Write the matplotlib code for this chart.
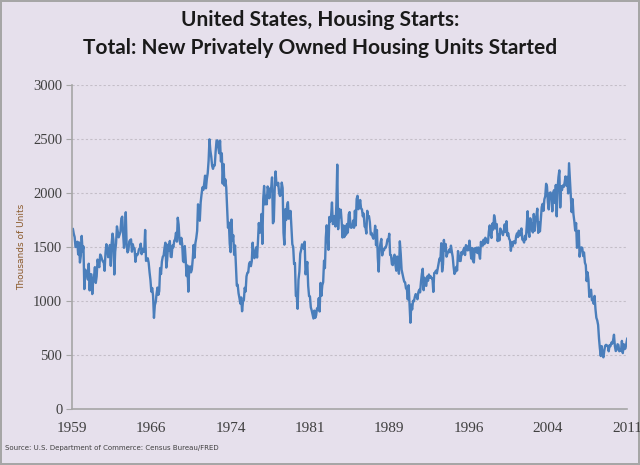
import matplotlib.pyplot as plt
import numpy as np

# monthly housing starts, thousands of units (SAAR), Jan 1959 - Jul 2011
starts = [
    1657, 1667, 1620, 1590, 1498, 1503, 1547, 1430, 1540, 1355, 1416, 1601,  # 1959
    1460, 1503, 1109, 1289, 1271, 1247, 1197, 1344, 1097, 1246, 1246, 1063,  # 1960
    1183, 1226, 1312, 1166, 1228, 1382, 1335, 1312, 1429, 1415, 1385, 1365,  # 1961
    1361, 1278, 1443, 1524, 1483, 1404, 1450, 1517, 1324, 1533, 1622, 1564,  # 1962
    1244, 1456, 1534, 1689, 1641, 1588, 1614, 1639, 1763, 1779, 1622, 1491,  # 1963
    1603, 1820, 1517, 1448, 1467, 1550, 1562, 1569, 1455, 1524, 1486, 1484,  # 1964
    1361, 1433, 1423, 1438, 1478, 1488, 1529, 1432, 1482, 1452, 1460, 1656,  # 1965
    1370, 1378, 1394, 1352, 1265, 1194, 1086, 1119, 1046, 843, 961, 990,     # 1966
    1067, 1123, 1056, 1091, 1304, 1248, 1364, 1407, 1421, 1491, 1538, 1308,  # 1967
    1380, 1520, 1466, 1554, 1408, 1405, 1512, 1495, 1556, 1569, 1630, 1548,  # 1968
    1769, 1705, 1561, 1524, 1583, 1528, 1368, 1358, 1507, 1381, 1229, 1327,  # 1969
    1085, 1305, 1319, 1264, 1290, 1385, 1517, 1399, 1534, 1580, 1647, 1893,  # 1970
    1828, 1741, 1910, 1986, 2049, 2026, 2083, 2158, 2041, 2128, 2182, 2295,  # 1971
    2494, 2390, 2334, 2249, 2221, 2254, 2252, 2382, 2481, 2485, 2421, 2366,  # 1972
    2481, 2289, 2365, 2084, 2266, 2067, 2123, 2051, 1874, 1677, 1724, 1526,  # 1973
    1451, 1752, 1555, 1607, 1426, 1513, 1316, 1142, 1150, 1070, 1026, 975,   # 1974
    1032, 904, 993, 1005, 1121, 1087, 1226, 1260, 1264, 1344, 1360, 1321,    # 1975
    1367, 1538, 1421, 1395, 1459, 1495, 1401, 1550, 1720, 1629, 1641, 1804,  # 1976
    1527, 1943, 2063, 1892, 1971, 1893, 2058, 2020, 1949, 2042, 2042, 2142,  # 1977
    1718, 1738, 2032, 2197, 2075, 2070, 2092, 1996, 1970, 1981, 2094, 2044,  # 1978
    1630, 1520, 1847, 1748, 1876, 1913, 1760, 1778, 1832, 1681, 1524, 1498,  # 1979
    1341, 1350, 1047, 1051, 927, 1196, 1269, 1436, 1471, 1523, 1510, 1482,   # 1980
    1547, 1246, 1306, 1360, 1140, 1045, 1041, 940, 911, 873, 837, 910,       # 1981
    843, 866, 931, 917, 1025, 902, 1166, 1046, 1144, 1173, 1372, 1303,       # 1982
    1586, 1699, 1606, 1472, 1776, 1733, 1785, 1910, 1710, 1715, 1785, 1688,  # 1983
    1897, 2260, 1663, 1851, 1774, 1843, 1732, 1586, 1698, 1590, 1689, 1612,  # 1984
    1711, 1632, 1800, 1821, 1680, 1676, 1684, 1743, 1676, 1834, 1698, 1942,  # 1985
    1972, 1848, 1876, 1933, 1854, 1847, 1782, 1807, 1687, 1681, 1623, 1833,  # 1986
    1774, 1784, 1726, 1614, 1628, 1594, 1575, 1605, 1695, 1515, 1656, 1400,  # 1987
    1271, 1473, 1532, 1573, 1421, 1478, 1467, 1493, 1492, 1522, 1569, 1563,  # 1988
    1621, 1425, 1422, 1339, 1331, 1397, 1427, 1332, 1279, 1410, 1351, 1251,  # 1989
    1551, 1437, 1289, 1248, 1212, 1177, 1171, 1115, 1110, 1014, 1145, 969,   # 1990
    798, 965, 921, 1001, 996, 1036, 1063, 1049, 1015, 1079, 1103, 1079,      # 1991
    1176, 1250, 1297, 1099, 1214, 1145, 1139, 1226, 1186, 1244, 1214, 1227,  # 1992
    1210, 1210, 1083, 1258, 1260, 1280, 1254, 1300, 1343, 1392, 1376, 1533,  # 1993
    1272, 1337, 1564, 1465, 1526, 1409, 1439, 1450, 1474, 1450, 1511, 1455,  # 1994
    1407, 1316, 1249, 1267, 1314, 1281, 1461, 1416, 1369, 1369, 1452, 1431,  # 1995
    1467, 1491, 1424, 1516, 1504, 1467, 1472, 1557, 1475, 1392, 1489, 1370,  # 1996
    1355, 1486, 1457, 1492, 1442, 1494, 1437, 1390, 1546, 1520, 1510, 1566,  # 1997
    1525, 1584, 1567, 1540, 1536, 1641, 1698, 1614, 1582, 1715, 1660, 1792,  # 1998
    1748, 1670, 1710, 1553, 1611, 1559, 1669, 1648, 1635, 1608, 1648, 1708,  # 1999
    1636, 1737, 1604, 1626, 1575, 1559, 1463, 1541, 1507, 1549, 1551, 1532,  # 2000
    1600, 1625, 1590, 1649, 1605, 1636, 1670, 1567, 1562, 1540, 1602, 1568,  # 2001
    1698, 1829, 1642, 1592, 1764, 1717, 1655, 1633, 1804, 1648, 1753, 1788,  # 2002
    1853, 1629, 1726, 1643, 1751, 1867, 1897, 1833, 1939, 1967, 2083, 2057,  # 2003
    1911, 1846, 1998, 2003, 1981, 1828, 2002, 2024, 1905, 2072, 1782, 2042,  # 2004
    2144, 2207, 1864, 2061, 2025, 2068, 2054, 2095, 2151, 2065, 2147, 1994,  # 2005
    2273, 2119, 1969, 1821, 1942, 1802, 1737, 1650, 1720, 1491, 1570, 1649,  # 2006
    1409, 1480, 1495, 1490, 1415, 1448, 1354, 1330, 1183, 1264, 1197, 1037,  # 2007
    1084, 1103, 1005, 1013, 973, 1046, 923, 844, 820, 777, 652, 560,         # 2008
    490, 582, 505, 478, 540, 585, 594, 586, 585, 534, 588, 581,              # 2009
    614, 604, 636, 687, 583, 536, 546, 599, 593, 534, 545, 539,              # 2010
    630, 517, 600, 554, 560, 608, 650,                                       # 2011
]
year_labels = ['1959', '1966', '1974', '1981', '1989', '1996', '2004', '2011']
y_ticks = [0, 500, 1000, 1500, 2000, 2500, 3000]

bg = '#E6E0EC'
fig = plt.figure(figsize=(6.4, 4.65), dpi=100, facecolor=bg,
                 edgecolor='#A6A6A6', linewidth=1.5)
ax = fig.add_axes([0.1125, 0.1204, 0.8675, 0.6976])
ax.set_facecolor(bg)

months = np.arange(len(starts))
ax.plot(months, starts, color='#4A7EBB', linewidth=1.7)

ax.set_xlim(0, 630)
ax.set_ylim(0, 3000)
ax.set_yticks(y_ticks)
ax.set_yticklabels([str(v) for v in y_ticks], fontfamily='Liberation Serif',
                   fontsize=10.5, color='#404040')
ax.set_xticks(np.arange(0, 631, 90))
ax.set_xticklabels(year_labels, fontfamily='Liberation Serif',
                   fontsize=11, color='#404040')
ax.tick_params(axis='y', length=4, color='#A6A6A6', pad=3)
ax.tick_params(axis='x', length=0, pad=9)

ax.grid(axis='y', color='#C4BEC8', linestyle=(0, (2, 2)), linewidth=0.8)
ax.set_axisbelow(True)
for s in ['top', 'right']:
    ax.spines[s].set_visible(False)
ax.spines['left'].set_color('#A6A6A6')
ax.spines['bottom'].set_color('#A6A6A6')
ax.spines['left'].set_linewidth(1.2)
ax.spines['bottom'].set_linewidth(1.2)

ax.set_ylabel('Thousands of Units', fontsize=6.5, color='#8B5A2B',
              labelpad=5)

fig.text(0.5, 0.958, 'United States, Housing Starts:', ha='center', va='center',
         fontfamily='Lato', fontweight='bold', fontsize=15, color='#1A1A1A')
fig.text(0.5, 0.897, 'Total: New Privately Owned Housing Units Started',
         ha='center', va='center', fontfamily='Lato', fontweight='bold',
         fontsize=15, color='#1A1A1A')
fig.text(0.008, 0.037, 'Source: U.S. Department of Commerce: Census Bureau/FRED',
         fontsize=5, color='#404040', va='center')

fig.savefig('out.png', dpi=100, facecolor=bg, edgecolor='#A6A6A6')
